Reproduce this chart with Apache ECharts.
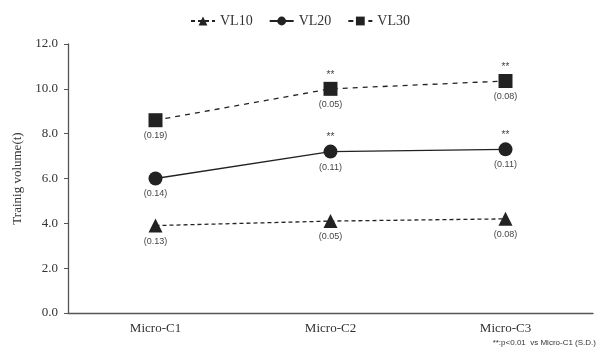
<!DOCTYPE html>
<html><head><meta charset="utf-8">
<script src="https://cdn.jsdelivr.net/npm/echarts@6/dist/echarts.min.js"></script>
<style>html,body{margin:0;padding:0;background:#fff}#c{width:600px;height:358px}</style>
</head><body><div id="c"></div>
<script>
const categories = ['Micro-C1','Micro-C2','Micro-C3'];
const vl10 = [3.9, 4.1, 4.2];
const vl20 = [6.0, 7.2, 7.3];
const vl30 = [8.6, 10.0, 10.35];
const sd10 = ['(0.13)','(0.05)','(0.08)'];
const sd20 = ['(0.14)','(0.11)','(0.11)'];
const sd30 = ['(0.19)','(0.05)','(0.08)'];
const sig10 = ['','',''];
const sig20 = ['','**','**'];
const sig30 = ['','**','**'];
const yTicks = [0,2,4,6,8,10,12];

const serif = '"Liberation Serif","DejaVu Serif",serif';
const sans = '"Liberation Sans","DejaVu Sans",sans-serif';
const ink = '#222';

function mainSeries(name, data, sd, symbol, size, lineType){
  return {
    name, type:'line', data, symbol, symbolSize:size,
    itemStyle:{color:ink}, lineStyle:{color:ink, width:1.3, type:lineType},
    label:{show:true, position:'bottom', distance:4, fontFamily:sans, fontSize:9, color:'#444',
      formatter:p=>sd[p.dataIndex]},
    z:3
  };
}
function sigSeries(name, data, sig, size){
  return {
    name: name+'_sig', type:'line', data, symbol:'rect', symbolSize:size, silent:true,
    itemStyle:{color:'rgba(0,0,0,0)'}, lineStyle:{width:0, color:'rgba(0,0,0,0)'},
    label:{show:true, position:'top', distance:2, fontFamily:sans, fontSize:10, color:'#444',
      formatter:p=>sig[p.dataIndex]},
    z:1
  };
}

const chart = echarts.init(document.getElementById('c'), null, {renderer:'canvas'});
chart.setOption({
  animation:false,
  legend:{
    top:9, left:'center', itemWidth:24, itemHeight:11, itemGap:16,
    data:['VL10','VL20','VL30'],
    textStyle:{fontFamily:serif, fontSize:14, color:'#333'}
  },
  grid:{left:68, right:7, top:44, bottom:45},
  xAxis:{
    type:'category', data:categories, boundaryGap:true,
    axisLine:{lineStyle:{color:'#555', width:1.3}},
    axisTick:{show:false},
    axisLabel:{fontFamily:serif, fontSize:13, color:'#333', margin:9}
  },
  yAxis:{
    type:'value', min:yTicks[0], max:yTicks[yTicks.length-1], interval:2,
    name:'Trainig volume(t)', nameLocation:'middle', nameGap:43, nameRotate:90,
    nameTextStyle:{fontFamily:serif, fontSize:13, color:'#333'},
    axisLine:{show:true, lineStyle:{color:'#555', width:1.3}},
    axisTick:{show:true, inside:false, length:4, lineStyle:{color:'#555'}},
    splitLine:{show:false},
    axisLabel:{fontFamily:serif, fontSize:13, color:'#333', margin:10, formatter:v=>v.toFixed(1)}
  },
  series:[
    mainSeries('VL10', vl10, sd10, 'triangle', 14, [4,3]),
    mainSeries('VL20', vl20, sd20, 'circle', 14, 'solid'),
    mainSeries('VL30', vl30, sd30, 'rect', 14, [5,5]),
    sigSeries('VL10', vl10, sig10, 14),
    sigSeries('VL20', vl20, sig20, 14),
    sigSeries('VL30', vl30, sig30, 14)
  ],
  graphic:[{
    type:'text', right:4, top:339,
    style:{text:'**:p<0.01  vs Micro-C1 (S.D.)', font:'8px '+sans, fill:'#333'}
  }]
});
</script></body></html>
